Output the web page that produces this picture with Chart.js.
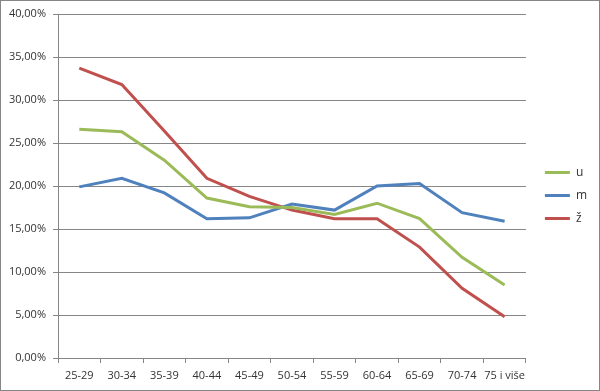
<!DOCTYPE html>
<html>
<head>
<meta charset="utf-8">
<script src="https://cdn.jsdelivr.net/npm/chart.js@4.4.1/dist/chart.umd.min.js"></script>
<style>
    html, body { margin: 0; padding: 0; background: #fff; }
    #wrap { width: 600px; height: 391px; }
</style>
</head>
<body>
<div id="wrap"><canvas id="chart" width="600" height="391"></canvas></div>
<script>
const categories = ["25-29", "30-34", "35-39", "40-44", "45-49", "50-54", "55-59", "60-64", "65-69", "70-74", "75 i više"];
const seriesU = [26.6, 26.3, 23.0, 18.6, 17.6, 17.5, 16.7, 18.0, 16.2, 11.7, 8.5];
const seriesM = [19.9, 20.9, 19.2, 16.2, 16.3, 17.9, 17.2, 20.0, 20.3, 16.9, 15.9];
const seriesZ = [33.7, 31.8, 26.4, 20.9, 18.8, 17.2, 16.2, 16.2, 12.9, 8.1, 4.8];

const gridColor = "#868686";
const textColor = "#333333";

// white background + thin gray frame round the whole chart
const frame = {
    id: "frame",
    beforeDraw(chart) {
        const c = chart.ctx;
        c.save();
        c.fillStyle = "#fff";
        c.fillRect(0, 0, chart.width, chart.height);
        c.strokeStyle = "#868686";
        c.lineWidth = 1;
        c.strokeRect(0.5, 0.5, chart.width - 1, chart.height - 1);
        c.restore();
    },
    // push the legend a bit away from the plot, like Excel does
    afterLayout(chart) {
        chart.legend.left += 8;
        chart.legend.right += 8;
    }
};

const ctx = document.getElementById("chart").getContext("2d");
const myChart = new Chart(ctx, {
    type: "line",
    data: {
        labels: categories,
        datasets: [
            { label: "u", data: seriesU, borderColor: "#9bbb59", backgroundColor: "#9bbb59", borderWidth: 3 },
            { label: "m", data: seriesM, borderColor: "#4f81bd", backgroundColor: "#4f81bd", borderWidth: 3 },
            { label: "ž", data: seriesZ, borderColor: "#c0504d", backgroundColor: "#c0504d", borderWidth: 3 }
        ]
    },
    options: {
        responsive: false,
        animation: false,
        layout: { padding: { top: 0, left: 0, right: 11, bottom: 0 } },
        elements: {
            point: { radius: 0 },
            line: { tension: 0, borderWidth: 3 }
        },
        plugins: {
            legend: {
                position: "right",
                labels: {
                    usePointStyle: true,
                    pointStyle: "line",
                    pointStyleWidth: 25,
                    padding: 11,
                    color: textColor,
                    font: { family: "Open Sans", size: 12 }
                }
            },
            tooltip: { enabled: false }
        },
        scales: {
            x: {
                offset: true,
                grid: {
                    offset: true,
                    drawOnChartArea: false,
                    drawTicks: true,
                    tickLength: 5,
                    color: gridColor
                },
                border: { color: gridColor },
                ticks: {
                    color: textColor,
                    font: { family: "Open Sans", size: 11 },
                    padding: 6,
                    maxRotation: 0,
                    autoSkip: false
                },
                afterFit(scale) { scale.height = 33; }
            },
            y: {
                min: 0,
                max: 40,
                grid: { color: gridColor, tickLength: 5 },
                border: { color: gridColor },
                ticks: {
                    stepSize: 5,
                    color: textColor,
                    font: { family: "Open Sans", size: 11 },
                    padding: 7,
                    callback: v => v.toFixed(2).replace(".", ",") + "%"
                },
                afterFit(scale) {
                    scale.width = 58;
                    scale.paddingTop = 14;
                }
            }
        }
    },
    plugins: [frame]
});
</script>
</body>
</html>
